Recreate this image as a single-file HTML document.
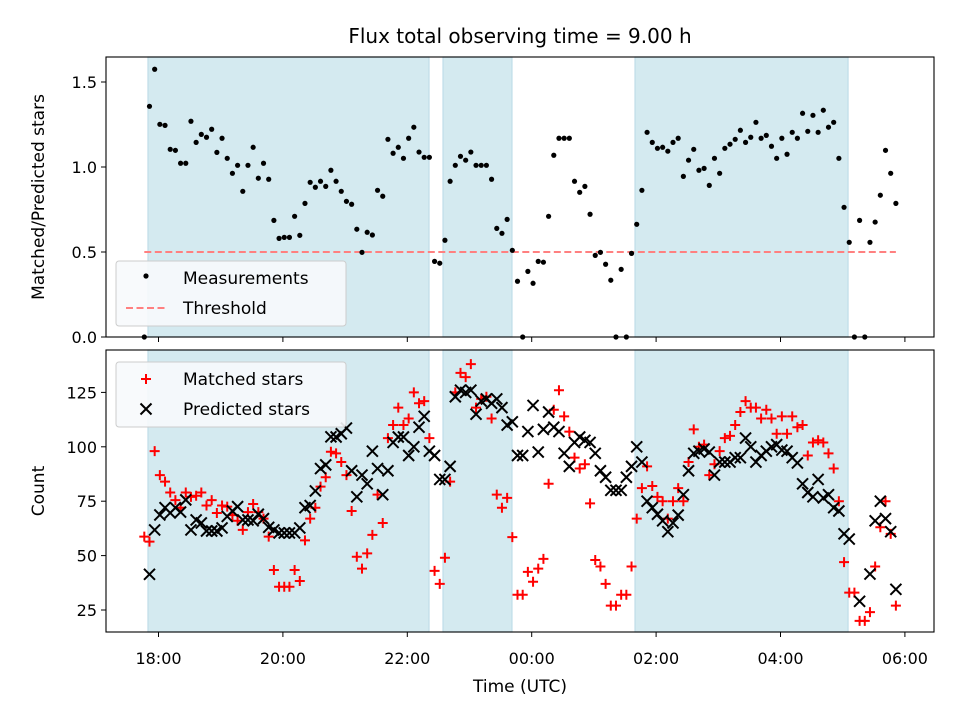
<!DOCTYPE html>
<html><head><meta charset="utf-8"><style>
body{margin:0;background:#fff;}
svg text{font-family:"DejaVu Sans","Liberation Sans",sans-serif;fill:#000;}
</style></head><body>
<svg id="chart" width="960" height="720" viewBox="0 0 960 720" xmlns="http://www.w3.org/2000/svg">
<rect width="960" height="720" fill="#fff"/>
<text x="520" y="43" font-size="20" text-anchor="middle">Flux total observing time = 9.00 h</text>
<g id="topPanel"></g><g id="botPanel"></g>
<text transform="translate(44,197) rotate(-90)" font-size="17" text-anchor="middle">Matched/Predicted stars</text>
<text transform="translate(44,491) rotate(-90)" font-size="17" text-anchor="middle">Count</text>
<text x="520" y="692" font-size="17" text-anchor="middle">Time (UTC)</text>
</svg>
<script>
// ---- data ----
const startHour = -0.2283;      // first sample, hours after 18:00 UTC
const cadenceMin = 5;           // sampling cadence, minutes
const shadeStarts = [-0.169, 4.574, 7.661];
const shadeEnds = [4.349, 5.683, 11.086];
const threshold = 0.5;
const ratio = [0,1.357,1.575,1.251,1.245,1.104,1.098,1.022,1.022,1.269,1.145,1.192,1.175,1.222,1.086,1.169,1.051,0.963,1.01,0.857,1.01,1.116,0.934,1.022,0.928,0.686,0.58,0.586,0.586,0.71,0.598,0.786,0.91,0.881,0.916,0.886,0.981,0.916,0.857,0.798,0.781,0.634,0.498,0.616,0.6,0.863,0.828,1.163,1.081,1.116,1.051,1.169,1.234,1.088,1.057,1.057,0.445,0.434,0.569,0.916,1.01,1.063,1.04,1.088,1.01,1.01,1.01,0.928,0.639,0.61,0.692,0.51,0.328,0,0.386,0.316,0.445,0.44,0.71,1.069,1.169,1.169,1.169,0.916,0.851,0.886,0.722,0.48,0.498,0.428,0.334,0,0.398,0,0.492,0.663,0.863,1.204,1.145,1.11,1.116,1.093,1.145,1.169,0.945,1.04,1.104,0.981,0.992,0.892,1.051,0.963,1.11,1.134,1.163,1.216,1.145,1.175,1.263,1.169,1.186,1.122,1.051,1.169,1.075,1.204,1.169,1.316,1.21,1.304,1.204,1.334,1.234,1.263,1.051,0.763,0.557,0,0.686,0,0.557,0.676,0.834,1.098,0.963,0.786];
const matched = [58.7,56.4,98,87,84,79,75.5,72,79,77,77.5,79,73,75.5,69.6,73,72.5,68.6,66,61.8,70,73.7,70,67,58.7,43.4,35.7,35.7,35.7,43.4,38.3,57,67,72,81.7,86,97.7,97,93,87,70.5,49.5,44,51,59.5,78,65,104,110,118,110,113,125,120,121,104,43,37,49,84,125,134,132,138,118,122,123,113,78,72,76.5,58.5,32,32,42.5,38,44,48.5,83,117,126,114,107,95,90,92,74,48,45,37,27,27,32,32,45,67,81,91,82,77,75,67,75,81,75,93,108,100,101,87,92,98,104,105,110,116,121,118,118,113,117,113,106,114,106,114,109,110,96,102,103,102,97,90,75,47,33,33,20,20,24,45,63,75,60,27];
const predicted = [null,41.4,61.8,68.7,72,69.6,72,70,75.6,61.8,66.4,65,61.3,61.3,61.3,62.7,68,70.5,72.5,66.4,66.4,66,69,67,63,61.8,60.4,60.4,60.4,60.4,62.7,72,73,79.7,90,91.7,104.6,104.5,106,108.6,89,77,87,83,98,90,78,89,102,104.5,104.5,96,100,109,114,98,96,85,85,91,123,126,125,126,115,121,122,120,122,118,110,111.5,96,96,107,119,97.6,108,116,109,107,97,91,102,104.5,103,102,97,89,86,80,80,80,86,91,100,93,75,72,69,66,61,65,68.6,78,89,97,98,99,97.6,87,93,93,93,95,95,104,100,93,96,98,100,101,98.5,98,95,92.6,83,79,77,85,76.5,78,72,70.5,60,57.6,null,29,null,41.5,66,75,67,61,34.5];
const xTicks = [0,2,4,6,8,10,12];
const xTickLabels = ["18:00","20:00","22:00","00:00","02:00","04:00","06:00"];
const topTicks = [0,0.5,1.0,1.5];
const topTickLabels = ["0.0","0.5","1.0","1.5"];
const botTicks = [25,50,75,100,125];
const botTickLabels = ["25","50","75","100","125"];

// ---- scales ----
const L=106,R=934;
const xS = h => 158.5 + h*62.2;
const yTop = v => 337 - v*170;
const yBot = v => 610 - (v-25)*2.176;
const T = i => startHour + i*cadenceMin/60;
const NS="http://www.w3.org/2000/svg";
function mk(parent,tag,attrs){const e=document.createElementNS(NS,tag);for(const k in attrs)e.setAttribute(k,attrs[k]);parent.appendChild(e);return e;}

function axes(g,y0,y1,prefix){
  for(let k=0;k<shadeStarts.length;k++){
    const r=mk(g,'rect',{x:xS(shadeStarts[k]),y:y0,width:xS(shadeEnds[k])-xS(shadeStarts[k]),height:y1-y0,fill:'#d4eaf0',stroke:'#bfdde8','stroke-width':1.2});
    
    
  }
  xTicks.forEach((h,k)=>{
    const t=mk(g,'line',{x1:xS(h),x2:xS(h),y1:y1,y2:y1+5,stroke:'#000','stroke-width':1});
    
    
  });
}
function frame(g,y0,y1,prefix){
  const f=mk(g,'rect',{x:L,y:y0,width:R-L,height:y1-y0,fill:'none',stroke:'#000','stroke-width':1.1});
  
  
}
function plus(g,x,y,c){return mk(g,'path',{d:`M${x-5} ${y}H${x+5}M${x} ${y-5}V${y+5}`,stroke:c,'stroke-width':2,fill:'none'});}
function cross(g,x,y,c){return mk(g,'path',{d:`M${x-5.5} ${y-5.5}L${x+5.5} ${y+5.5}M${x-5.5} ${y+5.5}L${x+5.5} ${y-5.5}`,stroke:c,'stroke-width':2,fill:'none'});}

// ---- top panel ----
const topG=document.getElementById('topPanel');
axes(topG,57,337,'top');
topTicks.forEach((v,k)=>{
  const t=mk(topG,'line',{x1:L-5,x2:L,y1:yTop(v),y2:yTop(v),stroke:'#000'});
  
  
  const tx=mk(topG,'text',{x:L-9,y:yTop(v)+6,'font-size':16,'text-anchor':'end'});
  tx.textContent=topTickLabels[k];
  
  
});
const th=mk(topG,'line',{x1:xS(T(0)),x2:xS(T(ratio.length-1)),y1:yTop(threshold),y2:yTop(threshold),stroke:'#ff8080','stroke-width':2,'stroke-dasharray':'7,3.5'});


ratio.forEach((v,i)=>{
  const c=mk(topG,'circle',{cx:xS(T(i)),cy:yTop(v),r:2.6,fill:'#000'});
  
  
});
frame(topG,57,337,'top');

// ---- bottom panel ----
const botG=document.getElementById('botPanel');
axes(botG,350,632,'bottom');
botTicks.forEach((v,k)=>{
  const t=mk(botG,'line',{x1:L-5,x2:L,y1:yBot(v),y2:yBot(v),stroke:'#000'});
  
  
  const tx=mk(botG,'text',{x:L-9,y:yBot(v)+6,'font-size':16,'text-anchor':'end'});
  tx.textContent=botTickLabels[k];
  
  
});
xTicks.forEach((h,k)=>{
  const tx=mk(botG,'text',{x:xS(h),y:664,'font-size':16,'text-anchor':'middle'});
  tx.textContent=xTickLabels[k];
  
  
});
matched.forEach((v,i)=>{
  if(v===null)return;
  const p=plus(botG,xS(T(i)),yBot(v),'#ff0000');
  
  
});
predicted.forEach((v,i)=>{
  if(v===null)return;
  const p=cross(botG,xS(T(i)),yBot(v),'#000');
  
  
});
frame(botG,350,632,'bottom');

// ---- legends ----
function legend(g,y,items,name){
  const lg=mk(g,'g',{});
  
  
  mk(lg,'rect',{x:116,y:y,width:230,height:65,rx:3,fill:'#f7fafc','fill-opacity':0.9,stroke:'#ccc','stroke-width':1});
  items.forEach((it,k)=>{
    const cy=y+17+k*30;
    let m;
    if(it.kind==='dot') m=mk(lg,'circle',{cx:146,cy:cy-2,r:2.6,fill:'#000'});
    else if(it.kind==='dash') m=mk(lg,'line',{x1:126,x2:166,y1:cy,y2:cy,stroke:'#ff8080','stroke-width':2,'stroke-dasharray':'7,3.5'});
    else if(it.kind==='plus') m=plus(lg,146,cy,'#ff0000');
    else m=cross(lg,146,cy,'#000');
    
    
    const t=mk(lg,'text',{x:183,y:cy+6,'font-size':17});
    t.textContent=it.label;
    
    
  });
}
legend(topG,261,[{kind:'dot',label:'Measurements'},{kind:'dash',label:'Threshold'}],'top-legend');
legend(botG,362,[{kind:'plus',label:'Matched stars'},{kind:'cross',label:'Predicted stars'}],'bottom-legend');
</script>
</body></html>
